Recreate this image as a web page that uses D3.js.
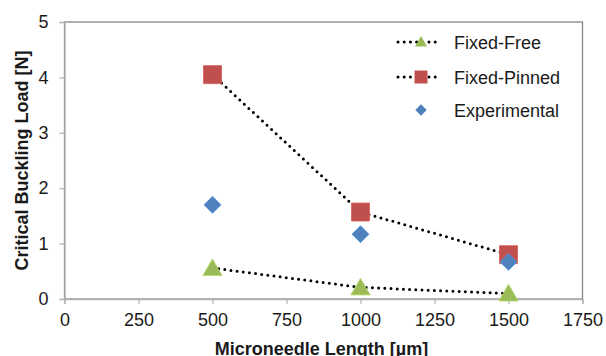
<!DOCTYPE html>
<html>
<head>
<meta charset="utf-8">
<script src="https://cdn.jsdelivr.net/npm/d3@7"></script>
<style>
  body { margin: 0; background: #fff; }
  svg text { font-family: "Liberation Sans", Arial, sans-serif; fill: #1a1a1a; }
</style>
</head>
<body>
<svg id="chart" width="606" height="356"></svg>
<script>
const lengths = [500, 1000, 1500];
const fixedFree = [0.56, 0.21, 0.1];
const fixedPinned = [4.05, 1.57, 0.8];
const experimental = [1.7, 1.17, 0.67];
const xTicks = [0, 250, 500, 750, 1000, 1250, 1500, 1750];
const yTicks = [0, 1, 2, 3, 4, 5];

const GREEN = "#9bbb59", RED = "#c0504d", BLUE = "#4f81bd";

const svg = d3.select("#chart");
const plot = { left: 64.5, right: 582.5, top: 22, bottom: 299 };

const x = d3.scaleLinear().domain([0, 1750]).range([plot.left, plot.right]);
const y = d3.scaleLinear().domain([0, 5]).range([plot.bottom, plot.top]);

// plot border (top/right darker, axes lighter)
svg.append("rect")
  .attr("x", plot.left).attr("y", plot.top)
  .attr("width", plot.right - plot.left).attr("height", plot.bottom - plot.top)
  .attr("fill", "none").attr("stroke", "#868686").attr("stroke-width", 1.3);

const xAxis = svg.append("g")
  .attr("transform", `translate(0,${plot.bottom})`)
  .call(d3.axisBottom(x).tickValues(xTicks).tickFormat(d3.format("d")).tickSize(5).tickPadding(9));
const yAxis = svg.append("g")
  .attr("transform", `translate(${plot.left},0)`)
  .call(d3.axisLeft(y).tickValues(yTicks).tickFormat(d3.format("d")).tickSize(5).tickPadding(11));

[xAxis, yAxis].forEach((ax) => {
  ax.select(".domain").attr("stroke", "#b3b3b3").attr("stroke-width", 1.3);
  ax.selectAll(".tick line").attr("stroke", "#b3b3b3").attr("stroke-width", 1.2);
  ax.selectAll(".tick text")
    .attr("fill", "#1a1a1a")
    .style("font-family", '"Liberation Sans", Arial, sans-serif')
    .style("font-size", "18px");
});

// axis titles
svg.append("text")
  .attr("x", (plot.left + plot.right) / 2 - 2)
  .attr("y", 355)
  .attr("text-anchor", "middle")
  .style("font-size", "18px").style("font-weight", "bold")
  .text("Microneedle Length [µm]");

svg.append("text")
  .attr("transform", `translate(28,${(plot.top + plot.bottom) / 2}) rotate(-90)`)
  .attr("text-anchor", "middle")
  .style("font-size", "18px").style("font-weight", "bold")
  .text("Critical Buckling Load [N]");

// dotted lines
const line = d3.line().x((d) => x(d[0])).y((d) => y(d[1]));
function dotted(values) {
  svg.append("path")
    .datum(lengths.map((l, i) => [l, values[i]]))
    .attr("d", line)
    .attr("fill", "none")
    .attr("stroke", "#000")
    .attr("stroke-width", 3)
    .attr("stroke-linecap", "round")
    .attr("stroke-dasharray", "0 6.2");
}
dotted(fixedFree);
dotted(fixedPinned);

const tri = d3.symbol().type(d3.symbolTriangle);
const sq = d3.symbol().type(d3.symbolSquare);

function markers(values, kind, size, color) {
  svg.append("g").selectAll("path")
    .data(lengths.map((l, i) => [l, values[i]]))
    .join("path")
    .attr("transform", (d) => kind === "diamond"
      ? `translate(${x(d[0])},${y(d[1])}) rotate(45)`
      : kind === "tri" ? `translate(${x(d[0])},${y(d[1]) + 2})` : `translate(${x(d[0])},${y(d[1])})`)
    .attr("d", (kind === "tri" ? tri : sq).size(size)())
    .attr("fill", color)
    .attr("stroke", d3.color(color).brighter(0.4))
    .attr("stroke-width", 0.8);
}
markers(fixedPinned, "square", 18 * 18, RED);
markers(fixedFree, "tri", 160, GREEN);
markers(experimental, "diamond", 12 * 12, BLUE);

// legend
const legendItems = [
  { name: "Fixed-Free", kind: "tri", color: GREEN, size: 62, line: true },
  { name: "Fixed-Pinned", kind: "square", color: RED, size: 13 * 13, line: true },
  { name: "Experimental", kind: "diamond", color: BLUE, size: 8 * 8, line: false },
];
const legendY = [42, 77, 110];
const lg = svg.append("g");
legendItems.forEach((it, i) => {
  const g = lg.append("g").attr("transform", `translate(0,${legendY[i]})`);
  if (it.line) {
    g.append("line")
      .attr("x1", 398).attr("x2", 440).attr("y1", 0).attr("y2", 0)
      .attr("stroke", "#000").attr("stroke-width", 3)
      .attr("stroke-linecap", "round").attr("stroke-dasharray", "0 6.2");
  }
  g.append("path")
    .attr("transform", it.kind === "diamond" ? "translate(421,0) rotate(45)" : it.kind === "tri" ? "translate(421,1)" : "translate(421,0)")
    .attr("d", (it.kind === "tri" ? tri : sq).size(it.size)())
    .attr("fill", it.color);
  g.append("text")
    .attr("x", 454).attr("y", 6.5)
    .style("font-size", "18px")
    .text(it.name);
});
</script>
</body>
</html>
